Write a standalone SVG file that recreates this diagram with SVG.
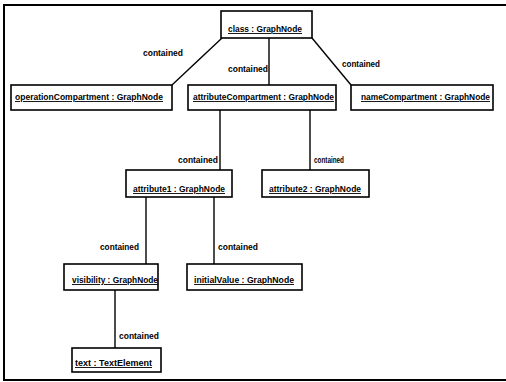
<svg xmlns="http://www.w3.org/2000/svg" width="506" height="382" viewBox="0 0 506 382">
<style>
.frame{fill:none;stroke:#000;stroke-width:2}
.box{fill:#fff;stroke:#000;stroke-width:1.6}
.edge{fill:none;stroke:#000;stroke-width:1.4}
.name{font-family:"Liberation Sans",Arial,sans-serif;font-size:9px;font-weight:bold;text-decoration:underline;fill:#000}
.lbl{font-family:"Liberation Sans",Arial,sans-serif;font-size:9px;font-weight:bold;fill:#000}
</style>
<rect x="0" y="0" width="506" height="382" fill="#fff"/>
<rect class="frame" x="4" y="5" width="520" height="375"/>
<g id="connectors">
<line class="edge" x1="222" y1="38" x2="172" y2="85"/>
<line class="edge" x1="269" y1="38" x2="269" y2="85"/>
<line class="edge" x1="312" y1="38" x2="351" y2="85"/>
<line class="edge" x1="220" y1="110" x2="220" y2="170"/>
<line class="edge" x1="310" y1="110" x2="310" y2="170"/>
<line class="edge" x1="146" y1="197" x2="146" y2="264"/>
<line class="edge" x1="214" y1="197" x2="214" y2="264"/>
<line class="edge" x1="115" y1="290" x2="115" y2="348"/>
<text class="lbl" x="143" y="56" textLength="40" lengthAdjust="spacingAndGlyphs">contained</text>
<text class="lbl" x="228" y="72" textLength="40" lengthAdjust="spacingAndGlyphs">contained</text>
<text class="lbl" x="342" y="67" textLength="38" lengthAdjust="spacingAndGlyphs">contained</text>
<text class="lbl" x="178" y="163" textLength="40" lengthAdjust="spacingAndGlyphs">contained</text>
<text class="lbl" x="314" y="163" textLength="30" lengthAdjust="spacingAndGlyphs">contained</text>
<text class="lbl" x="100" y="250" textLength="39" lengthAdjust="spacingAndGlyphs">contained</text>
<text class="lbl" x="218" y="250" textLength="40" lengthAdjust="spacingAndGlyphs">contained</text>
<text class="lbl" x="119" y="339" textLength="40" lengthAdjust="spacingAndGlyphs">contained</text>
</g>
<g id="class">
<rect class="box" x="221" y="11" width="91" height="27"/>
<text class="name" x="228" y="32" textLength="74" lengthAdjust="spacingAndGlyphs">class : GraphNode</text>
</g>
<g id="operationCompartment">
<rect class="box" x="11" y="85" width="161" height="25"/>
<text class="name" x="15" y="100" textLength="148" lengthAdjust="spacingAndGlyphs">operationCompartment : GraphNode</text>
</g>
<g id="attributeCompartment">
<rect class="box" x="188" y="85" width="148" height="25"/>
<text class="name" x="193" y="100" textLength="141" lengthAdjust="spacingAndGlyphs">attributeCompartment : GraphNode</text>
</g>
<g id="nameCompartment">
<rect class="box" x="351" y="85" width="142" height="25"/>
<text class="name" x="361" y="100" textLength="129" lengthAdjust="spacingAndGlyphs">nameCompartment : GraphNode</text>
</g>
<g id="attribute1">
<rect class="box" x="126" y="170" width="106" height="27"/>
<text class="name" x="133" y="192" textLength="92" lengthAdjust="spacingAndGlyphs">attribute1 : GraphNode</text>
</g>
<g id="attribute2">
<rect class="box" x="262" y="170" width="107" height="27"/>
<text class="name" x="269" y="192" textLength="92" lengthAdjust="spacingAndGlyphs">attribute2 : GraphNode</text>
</g>
<g id="visibility">
<rect class="box" x="64" y="264" width="94" height="26"/>
<text class="name" x="72" y="283" textLength="86" lengthAdjust="spacingAndGlyphs">visibility : GraphNode</text>
</g>
<g id="initialValue">
<rect class="box" x="187" y="264" width="115" height="26"/>
<text class="name" x="194" y="283" textLength="100" lengthAdjust="spacingAndGlyphs">initialValue : GraphNode</text>
</g>
<g id="text">
<rect class="box" x="72" y="348" width="89" height="24"/>
<text class="name" x="75" y="366" textLength="77" lengthAdjust="spacingAndGlyphs">text : TextElement</text>
</g>
</svg>
